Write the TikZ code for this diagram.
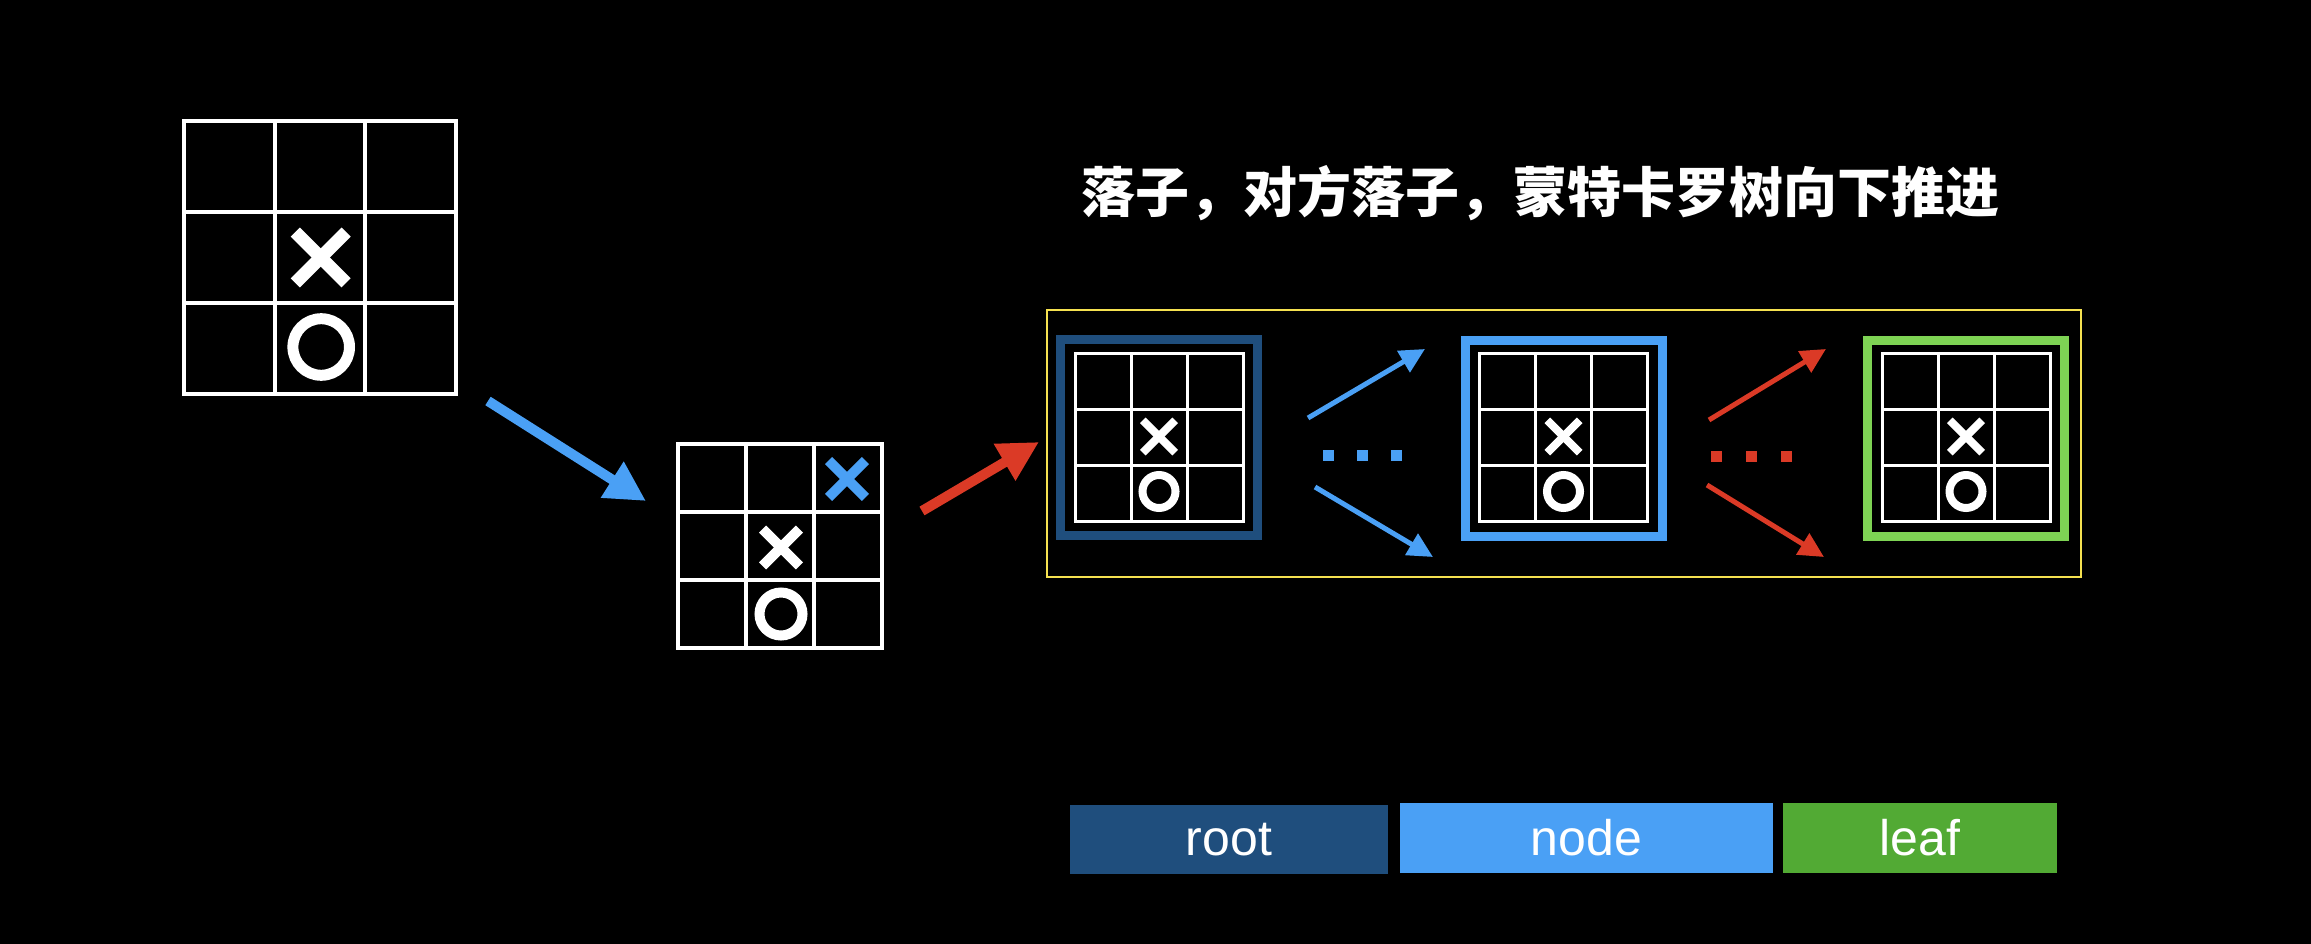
\documentclass[tikz,border=0pt]{standalone}
\usepackage{fontspec}
\setmainfont{Liberation Sans}
\newfontfamily\cjk{Noto Sans CJK SC}
\usetikzlibrary{arrows.meta}
\definecolor{rootblue}{RGB}{31,78,125}
\definecolor{nodeblue}{RGB}{74,160,245}
\definecolor{leafgreen}{RGB}{126,211,84}
\definecolor{legendgreen}{RGB}{82,170,52}
\definecolor{movered}{RGB}{219,58,38}
\definecolor{treeyellow}{RGB}{245,225,80}
% board: centre x, centre y, cell, line width
\newcommand{\drawboard}[4]{%
	\draw[white, line width=#4pt] ({#1-1.5*#3},{#2-1.5*#3}) rectangle ({#1+1.5*#3},{#2+1.5*#3});
	\foreach \k in {-0.5,0.5}{
		\draw[white, line width=#4pt] ({#1+\k*#3},{#2-1.5*#3}) -- ({#1+\k*#3},{#2+1.5*#3});
		\draw[white, line width=#4pt] ({#1-1.5*#3},{#2+\k*#3}) -- ({#1+1.5*#3},{#2+\k*#3});
	}
}
% cross: centre x, centre y, half size, line width, colour
\newcommand{\xmove}[5]{%
	\draw[#5, line width=#4pt] ({#1-#3+0.354*#4},{#2-#3+0.354*#4}) -- ({#1+#3-0.354*#4},{#2+#3-0.354*#4});
	\draw[#5, line width=#4pt] ({#1-#3+0.354*#4},{#2+#3-0.354*#4}) -- ({#1+#3-0.354*#4},{#2-#3+0.354*#4});
}
% ring: centre x, centre y, radius, line width
\newcommand{\omove}[4]{\draw[white, line width=#4pt] (#1,#2) circle (#3);}
\begin{document}
\begin{tikzpicture}[x=1pt, y=-1pt, line join=miter,
	frame/.style={draw=#1, line width=9pt, minimum width=197pt, minimum height=196pt, inner sep=0pt},
	legend/.style={fill=#1, text=white, font=\fontsize{50}{56}\selectfont, inner sep=0pt},
	bigmove/.style={draw=#1, line width=10pt, -{Triangle[length=40pt, width=40pt]}},
	smallmove/.style={draw=#1, line width=5pt, -{Triangle[length=25pt, width=24pt]}}]
	\fill[black] (0,0) rectangle (2311,944);
	\useasboundingbox (0,0) rectangle (2311,944);
	\path
	(488,401) coordinate (A0)
	(646,501) coordinate (A1)
	(922,511) coordinate (B0)
	(1039,442) coordinate (B1)
	(1308,418) coordinate (C0)
	(1425,349) coordinate (C1)
	(1315,487) coordinate (D0)
	(1433,557) coordinate (D1)
	(1709,420) coordinate (E0)
	(1826,349) coordinate (E1)
	(1707,485) coordinate (F0)
	(1824,557) coordinate (F1);
	% first position
	\drawboard{320}{257.5}{90.7}{4}
	\xmove{320.7}{257.5}{30}{13}{white}
	\omove{321.2}{347}{28.3}{11}
	% after one move
	\drawboard{780}{546}{68}{3.5}
	\xmove{847}{479}{22}{10}{nodeblue}
	\xmove{781}{547.5}{22}{10}{white}
	\omove{781}{614}{21.5}{10}
	\draw[bigmove=nodeblue] (A0) -- (A1);
	\draw[bigmove=movered] (B0) -- (B1);
	% tree
	\node[draw=treeyellow, line width=2.5pt, minimum width=1034pt, minimum height=267pt] (tree) at (1564,443.5) {};
	\node[frame=rootblue] (root) at (1159,437.5) {};
	\node[frame=nodeblue] (mid) at (1564,438) {};
	\node[frame=leafgreen] (leaf) at (1966,438) {};
	\foreach \c in {1159,1563.5,1966}{
		\drawboard{\c}{437.5}{56}{3}
		\xmove{\c}{436.5}{19}{8}{white}
		\omove{\c}{491.5}{16.5}{8}
	}
	\draw[smallmove=nodeblue] (C0) -- (C1);
	\draw[smallmove=nodeblue] (D0) -- (D1);
	\draw[smallmove=movered] (E0) -- (E1);
	\draw[smallmove=movered] (F0) -- (F1);
	\foreach \d in {1328,1362,1396}
	\fill[nodeblue] (\d-5.5,449.5) rectangle (\d+5.5,460.5);
	\foreach \d in {1716,1751,1786}
	\fill[movered] (\d-5.5,450.5) rectangle (\d+5.5,461.5);
	\node[text=white, font=\cjk\bfseries\fontsize{54}{60}\selectfont] (title) at (1540.5,193) {落子，对方落子，蒙特卡罗树向下推进};
	% legend
	\node[legend=rootblue, minimum width=318pt, minimum height=69pt] (lroot) at (1229,839.5) {root};
	\node[legend=nodeblue, minimum width=373pt, minimum height=70pt] (lnode) at (1586.5,838) {node};
	\node[legend=legendgreen, minimum width=274pt, minimum height=70pt] (lleaf) at (1920,838) {leaf};
\end{tikzpicture}
\end{document}
